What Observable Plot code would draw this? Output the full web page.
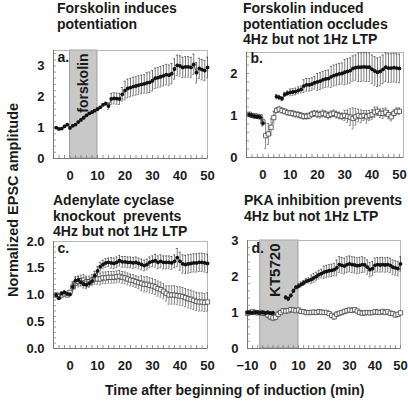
<!DOCTYPE html>
<html><head><meta charset="utf-8">
<script src="https://cdn.jsdelivr.net/npm/d3@7"></script>
<script src="https://cdn.jsdelivr.net/npm/@observablehq/plot@0.6"></script>
<style>
html,body{margin:0;padding:0;background:#fff;}
#chart{position:relative;width:408px;height:403px;overflow:hidden;font-family:"Liberation Sans",Arial,sans-serif;background:#fff;}
</style></head><body><div id="chart"></div>
<script>
// ---------- Panel a : forskolin ----------
const timeA = [-5,-4,-3,-2,-1,0,1,2,3,4,5,6,7,8,9,10,11,12,13,14,15,16,17,18,19,20,21,22,23,24,25,26,27,28,29,30,31,32,33,34,35,36,37,38,39,40,41,42,43,44,45,46,47,48,49,50];
const valA = [1.00,0.96,0.97,1.04,1.10, 0.99,1.06,1.10,1.18,1.25,1.32,1.40,1.46,1.50,1.55, 1.60,1.66,1.74,1.78,1.70,1.93,1.95,1.94,1.93,2.08, 2.20,2.27,2.30,2.33,2.35,2.38,2.40,2.42,2.45,2.47, 2.52,2.60,2.62,2.65,2.68,2.72,2.70,2.75,2.90,3.02, 3.00,2.95,2.97,2.97,2.95,3.05,2.78,2.92,2.88,2.85,2.95];
const errA = [0.03,0.03,0.03,0.03,0.03, 0.03,0.03,0.03,0.03,0.03,0.03,0.03,0.03,0.04,0.04, 0.04,0.04,0.04,0.05,0.10,0.18,0.18,0.18,0.18,0.22, 0.30,0.30,0.30,0.30,0.30,0.30,0.30,0.30,0.33,0.33, 0.33,0.33,0.33,0.33,0.33,0.33,0.33,0.33,0.33,0.33, 0.33,0.33,0.33,0.33,0.33,0.33,0.33,0.33,0.33,0.33,0.33];

// ---------- Panel b : forskolin occludes 4Hz ----------
const timeB4 = [-5,-4,-3,-2,-1,0,5,6,7,8,9,10,11,12,13,14,15,16,17,18,19,20,21,22,23,24,25,26,27,28,29,30,31,32,33,34,35,36,37,38,39,40,41,42,43,44,45,46,47,48,49,50];
const valB4 = [1.02,1.00,0.98,0.97,0.96,0.82, 1.45,1.43,1.40,1.50,1.53, 1.55,1.56,1.57,1.60,1.62,1.70,1.73,1.73,1.75,1.78, 1.80,1.82,1.85,1.87,1.88,1.92,1.95,1.97,1.99,2.00, 2.03,2.05,2.07,2.12,2.14,2.15,2.15,2.16,2.15,2.15, 2.10,2.06,2.03,2.05,2.10,2.15,2.13,2.13,2.14,2.13,2.12];
const errB4 = [0.04,0.04,0.04,0.04,0.04,0.06, 0.05,0.05,0.05,0.05,0.05, 0.08,0.08,0.08,0.08,0.08,0.15,0.15,0.15,0.15,0.15, 0.20,0.20,0.20,0.20,0.20,0.25,0.25,0.25,0.25,0.25, 0.30,0.30,0.30,0.30,0.30,0.34,0.34,0.34,0.34,0.34, 0.34,0.34,0.34,0.34,0.34,0.34,0.34,0.34,0.34,0.34,0.34];
const timeB1 = [-5,-4,-3,-2,-1,0,1,2,3,4,5,6,7,8,9,10,11,12,13,14,15,16,17,18,19,20,21,22,23,24,25,26,27,28,29,30,31,32,33,34,35,36,37,38,39,40,41,42,43,44,45,46,47,48,49,50];
const valB1 = [1.03,1.00,0.99,0.98,0.97, 0.85,0.52,0.56,0.72,0.95,1.12,1.15,1.12,1.10,1.07, 1.06,1.05,1.03,1.02,1.00,0.98,0.98,0.99,1.03,1.05, 1.03,1.02,1.05,1.03,1.00,1.03,1.05,1.02,1.00,0.98, 1.00,0.98,0.96,0.93,0.97,1.00,0.98,1.00,0.97,1.00, 1.02,1.08,1.10,1.05,1.05,1.08,1.02,0.97,1.05,1.10,1.10];
const errB1 = [0.04,0.04,0.04,0.04,0.04, 0.10,0.30,0.25,0.20,0.15,0.06,0.06,0.06,0.06,0.06, 0.06,0.07,0.07,0.07,0.07,0.07,0.07,0.07,0.07,0.07, 0.08,0.08,0.08,0.08,0.08,0.08,0.08,0.08,0.08,0.08, 0.12,0.15,0.20,0.25,0.20,0.15,0.15,0.12,0.15,0.12, 0.12,0.12,0.10,0.10,0.12,0.10,0.10,0.10,0.08,0.08,0.08];

// ---------- Panel c : adenylate cyclase knockout ----------
const timeC = [-5,-4,-3,-2,-1,0,1,2,3,4,5,6,7,8,9,10,11,12,13,14,15,16,17,18,19,20,21,22,23,24,25,26,27,28,29,30,31,32,33,34,35,36,37,38,39,40,41,42,43,44,45,46,47,48,49,50];
const valC4 = [1.00,0.94,1.03,1.05,1.02, 1.01,1.15,1.27,1.28,1.24,1.20,1.19,1.22,1.26,1.36, 1.45,1.53,1.57,1.60,1.61,1.60,1.59,1.61,1.64,1.62, 1.62,1.61,1.61,1.60,1.61,1.59,1.57,1.55,1.57,1.61, 1.63,1.64,1.61,1.63,1.61,1.61,1.61,1.60,1.63,1.70, 1.63,1.58,1.57,1.58,1.59,1.60,1.60,1.61,1.61,1.60,1.59];
const errC4 = [0.03,0.03,0.03,0.03,0.03, 0.03,0.07,0.07,0.07,0.07,0.07,0.07,0.07,0.07,0.08, 0.08,0.08,0.08,0.08,0.08,0.10,0.10,0.10,0.10,0.10, 0.10,0.10,0.10,0.10,0.10,0.10,0.10,0.10,0.10,0.10, 0.10,0.12,0.12,0.12,0.12,0.12,0.12,0.12,0.12,0.17, 0.17,0.17,0.17,0.17,0.17,0.17,0.17,0.17,0.17,0.17,0.17];
const valC1 = [1.00,0.97,1.00,1.02,1.00, 1.05,1.15,1.22,1.25,1.27,1.28,1.25,1.25,1.28,1.30, 1.30,1.30,1.32,1.32,1.33,1.33,1.33,1.34,1.35,1.33, 1.32,1.30,1.28,1.27,1.25,1.23,1.22,1.20,1.20,1.18, 1.17,1.15,1.12,1.10,1.07,1.03,1.00,1.00,1.00,0.99, 0.98,0.97,0.95,0.93,0.92,0.90,0.88,0.87,0.87,0.86,0.87];
const errC1 = [0.03,0.03,0.03,0.03,0.03, 0.03,0.10,0.10,0.10,0.10,0.10,0.10,0.10,0.10,0.10, 0.10,0.11,0.11,0.11,0.11,0.11,0.11,0.11,0.11,0.11, 0.11,0.11,0.11,0.11,0.11,0.11,0.14,0.14,0.14,0.14, 0.14,0.14,0.14,0.14,0.14,0.14,0.17,0.17,0.17,0.17, 0.17,0.17,0.17,0.17,0.17,0.17,0.17,0.17,0.17,0.17,0.17];

// ---------- Panel d : PKA inhibition ----------
const timeD4 = [-10,-9,-8,-7,-6,-5,-4,-3,-2,-1,0,5,6,7,8,9,10,11,12,13,14,15,16,17,18,19,20,21,22,23,24,25,26,27,28,29,30,31,32,33,34,35,36,37,38,39,40,41,42,43,44,45,46,47,48,49,50];
const valD4 = [1.00,1.00,0.99,1.01,1.00,0.99,1.00,0.98,1.00,0.98,0.99, 1.42,1.38,1.47,1.60,1.70, 1.73,1.78,1.82,1.87,1.89,1.92,1.96,2.00,2.05,2.08, 2.12,2.14,2.16,2.17,2.19,2.24,2.33,2.31,2.29,2.33, 2.35,2.33,2.32,2.30,2.31,2.33,2.32,2.26,2.19,2.22, 2.31,2.33,2.32,2.33,2.32,2.33,2.31,2.26,2.24,2.22,2.35];
const errD4 = [0.04,0.04,0.04,0.04,0.04,0.04,0.04,0.04,0.04,0.04,0.04, 0.05,0.05,0.05,0.05,0.05, 0.07,0.07,0.07,0.07,0.07,0.12,0.12,0.12,0.12,0.12, 0.17,0.17,0.17,0.17,0.17,0.22,0.22,0.22,0.22,0.22, 0.22,0.22,0.22,0.22,0.22,0.22,0.20,0.20,0.20,0.20, 0.20,0.20,0.20,0.20,0.20,0.20,0.20,0.20,0.20,0.20,0.20];
const timeD1 = [-10,-9,-8,-7,-6,-5,-4,-3,-2,-1,0,1,2,3,4,5,6,7,8,9,10,11,12,13,14,15,16,17,18,19,20,21,22,23,24,25,26,27,28,29,30,31,32,33,34,35,36,37,38,39,40,41,42,43,44,45,46,47,48,49,50];
const valD1 = [0.98,1.00,1.02,1.00,0.99,1.00,0.98,0.97,0.93,0.88, 0.85,0.87,0.95,1.00,1.05,1.04,1.05,1.08,1.07,1.05, 1.07,1.03,1.02,1.00,1.00,1.00,1.01,1.00,1.02,1.01, 1.00,1.00,0.97,0.92,0.88,0.95,0.98,1.00,1.03,1.05, 1.07,1.06,1.08,1.04,1.00,0.98,0.99,1.00,0.99,1.00, 1.02,1.01,1.00,1.03,1.00,1.02,0.98,0.97,0.93,0.95,0.99];
const errD1 = [0.04,0.04,0.04,0.04,0.04,0.04,0.04,0.04,0.08,0.08, 0.08,0.08,0.08,0.05,0.05,0.05,0.05,0.05,0.05,0.05, 0.05,0.05,0.05,0.05,0.05,0.05,0.05,0.05,0.05,0.05, 0.05,0.05,0.05,0.07,0.07,0.07,0.05,0.05,0.05,0.05, 0.05,0.05,0.05,0.05,0.05,0.05,0.05,0.05,0.05,0.05, 0.05,0.05,0.05,0.05,0.05,0.05,0.05,0.05,0.05,0.05,0.05];

// ---------- text ----------
const panelTitles = [
  ["Forskolin induces", "potentiation"],
  ["Forskolin induced", "potentiation occludes", "4Hz but not 1Hz LTP"],
  ["Adenylate cyclase", "knockout  prevents", "4Hz but not 1Hz LTP"],
  ["PKA inhibition prevents", "4Hz but not 1Hz LTP"]
];
const panelLetters = ["a.", "b.", "c.", "d."];
const yAxisLabel = "Normalized EPSC amplitude";
const xAxisLabel = "Time after beginning of induction (min)";
const ticksX = [0, 10, 20, 30, 40, 50];
const ticksXd = [-10, 0, 10, 20, 30, 40, 50];

const FONT = '"Liberation Sans", Arial, Helvetica, sans-serif';
const chart = document.getElementById("chart");

function series(t, v, e, open) {
  return {open, data: t.map((tt, i) => ({t: tt, v: v[i], e: e[i], seg: tt <= 0 ? 0 : 1}))};
}

function makePanel(cfg) {
  const innerW = cfg.w - cfg.mL - cfg.mR, innerH = cfg.h - cfg.mT - cfg.mB;
  const marks = [];
  if (cfg.shade) {
    marks.push(Plot.rect([cfg.shade], {x1: "from", x2: "to", y1: () => cfg.yDomain[0], y2: () => cfg.yDomain[1],
      fill: "#c8c8c8", stroke: "#8e8e8e", strokeWidth: 0.8}));
    marks.push(Plot.text([cfg.shade], {x: "at", y: () => cfg.yDomain[1], text: "label", rotate: -90,
      textAnchor: "end", lineAnchor: "middle", dy: 3, fontSize: cfg.shade.size, fontWeight: "bold", fill: "#1a1a1a"}));
  }
  marks.push(Plot.frame({stroke: "#b8b8b8", strokeWidth: 1}));
  marks.push(Plot.ruleX([cfg.xDomain[0]], {stroke: "#777", strokeWidth: 1}));
  marks.push(Plot.ruleY([cfg.yDomain[0]], {stroke: "#777", strokeWidth: 1}));
  marks.push(Plot.ruleX(cfg.xMinor, {insetTop: innerH - 3, stroke: "#777", strokeWidth: 0.8}));
  marks.push(Plot.ruleY(cfg.yMinor, {insetRight: innerW - 3, stroke: "#888", strokeWidth: 0.8}));
  for (const s of cfg.series) {
    const col = s.open ? "#555" : "#444";
    marks.push(Plot.ruleX(s.data, {x: "t", y1: d => d.v - d.e, y2: d => d.v + d.e, stroke: col, strokeWidth: 0.7}));
    marks.push(Plot.ruleY(s.data, {y: d => d.v + d.e, x1: d => d.t - 0.35, x2: d => d.t + 0.35, stroke: col, strokeWidth: 0.7}));
    marks.push(Plot.ruleY(s.data, {y: d => d.v - d.e, x1: d => d.t - 0.35, x2: d => d.t + 0.35, stroke: col, strokeWidth: 0.7}));
    marks.push(Plot.line(s.data, {x: "t", y: "v", z: "seg", stroke: s.open ? "#666" : "#222", strokeWidth: 0.8}));
    if (s.open) {
      marks.push(Plot.dot(s.data, {x: "t", y: "v", symbol: "square", r: 2.4, fill: "white", stroke: "#444", strokeWidth: 0.8}));
    } else {
      marks.push(Plot.dot(s.data, {x: "t", y: "v", r: 1.9, fill: "#111", stroke: "none"}));
    }
  }
  marks.push(Plot.text([cfg.letter], {frameAnchor: "top-left", text: d => d, dx: 4, dy: cfg.letterDy, lineAnchor: "top",
    fontSize: 14, fontWeight: "bold", fill: "#1a1a1a"}));
  const svg = Plot.plot({
    width: cfg.w, height: cfg.h,
    marginLeft: cfg.mL, marginRight: cfg.mR, marginTop: cfg.mT, marginBottom: cfg.mB,
    x: {domain: cfg.xDomain, ticks: cfg.xTicks, tickSize: 0, tickPadding: 12, label: null},
    y: {domain: cfg.yDomain, ticks: cfg.yTicks, tickSize: 0, tickPadding: 9, label: null, tickFormat: cfg.yFmt},
    style: {background: "transparent", overflow: "visible", fontFamily: FONT, fontSize: "13px", fontWeight: "bold", color: "#1a1a1a"},
    marks
  });
  svg.style.position = "absolute";
  svg.style.left = cfg.left + "px";
  svg.style.top = cfg.top + "px";
  svg.style.maxWidth = "none";
  chart.appendChild(svg);
}

makePanel({left: 0, top: 40, w: 210, h: 150, mL: 53, mR: 3, mT: 10, mB: 32,
  xDomain: [-6, 50], yDomain: [0, 3.5], xTicks: ticksX, yTicks: [0, 1, 2, 3], yFmt: d3.format("d"),
  xMinor: d3.range(-6, 51, 2), yMinor: d3.range(0.2, 3.5, 0.2),
  shade: {from: 0, to: 10, at: 5, label: "forskolin", size: 14},
  letter: panelLetters[0], letterDy: 2,
  series: [series(timeA, valA, errA, false)]});

makePanel({left: 210, top: 40, w: 198, h: 150, mL: 36, mR: 5, mT: 12, mB: 33,
  xDomain: [-6, 51.5], yDomain: [0, 2.5], xTicks: ticksX, yTicks: [0, 1, 2], yFmt: d3.format("d"),
  xMinor: d3.range(-6, 51, 2), yMinor: d3.range(0.2, 2.5, 0.2),
  letter: panelLetters[1], letterDy: 1,
  series: [series(timeB1, valB1, errB1, true), series(timeB4, valB4, errB4, false)]});

makePanel({left: 0, top: 230, w: 210, h: 150, mL: 53, mR: 3, mT: 11, mB: 32,
  xDomain: [-6, 50], yDomain: [0, 2], xTicks: ticksX, yTicks: [0, 0.5, 1, 1.5, 2], yFmt: d3.format(".1f"),
  xMinor: d3.range(-6, 51, 2), yMinor: d3.range(0.1, 2, 0.1),
  letter: panelLetters[2], letterDy: 2,
  series: [series(timeC, valC1, errC1, true), series(timeC, valC4, errC4, false)]});

makePanel({left: 210, top: 230, w: 198, h: 150, mL: 37, mR: 8, mT: 10, mB: 32,
  xDomain: [-10, 50], yDomain: [0, 3], xTicks: ticksXd, yTicks: [0, 1, 2, 3], yFmt: d3.format("d"),
  xMinor: d3.range(-10, 51, 2), yMinor: d3.range(0.2, 3, 0.2),
  shade: {from: -5, to: 10, at: 1, label: "KT5720", size: 15},
  letter: panelLetters[3], letterDy: 3,
  series: [series(timeD1, valD1, errD1, true), series(timeD4, valD4, errD4, false)]});

// overlay text (titles, axis labels)
const ov = d3.select(chart).append("svg")
  .attr("width", 408).attr("height", 403)
  .style("position", "absolute").style("left", "0px").style("top", "0px")
  .style("pointer-events", "none")
  .style("font-family", FONT).style("font-weight", "bold").style("fill", "#1a1a1a");

const titlePos = [{x: 57, y: 13}, {x: 243, y: 13.3}, {x: 53, y: 205}, {x: 244, y: 205}];
panelTitles.forEach((lines, i) => {
  lines.forEach((ln, j) => {
    ov.append("text").attr("x", titlePos[i].x).attr("y", titlePos[i].y + j * 15.5)
      .attr("font-size", 14).style("white-space", "pre").attr("xml:space", "preserve").text(ln);
  });
});
ov.append("text").attr("x", 105).attr("y", 395).attr("font-size", 14).text(xAxisLabel);
ov.append("text").attr("transform", "translate(17.5,200) rotate(-90)").attr("text-anchor", "middle")
  .attr("font-size", 14.5).text(yAxisLabel);
</script></body></html>
